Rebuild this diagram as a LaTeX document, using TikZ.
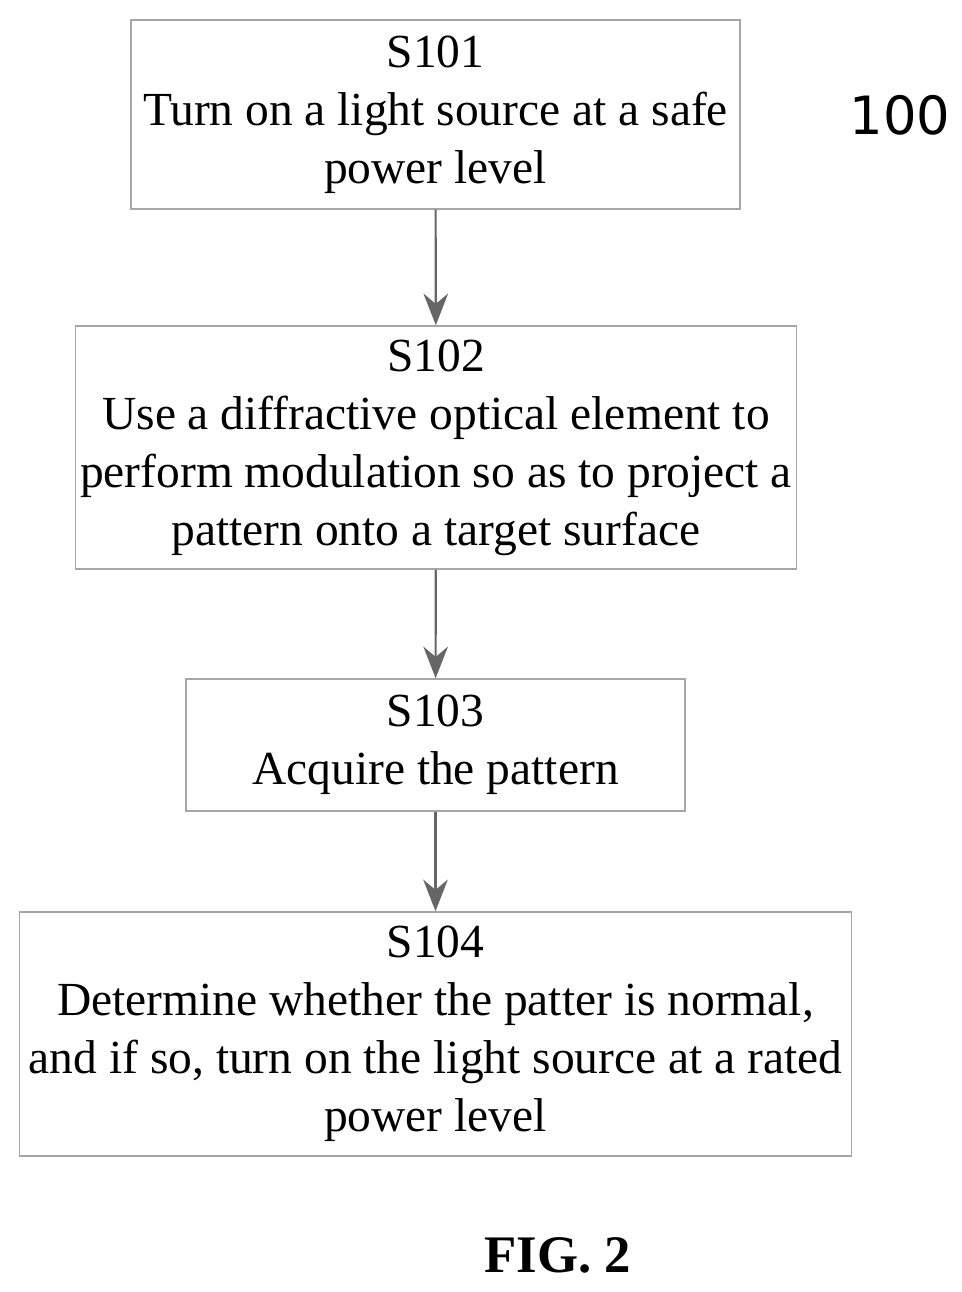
\documentclass[tikz,border=0pt]{standalone}
\usepackage{fontspec}
\setmainfont{Liberation Serif}
\newfontfamily\labelfont{DejaVu Sans}
\usetikzlibrary{arrows.meta}
\tikzset{
  stepbox/.style={draw=gray!70, thin, rectangle, align=center, inner sep=0pt,
    font=\fontsize{13.5}{16.5}\selectfont},
  flow/.style={-{Stealth[length=9pt,width=7pt]}, draw=gray!80!black, fill=gray!60, semithick}
}
\begin{document}
\begin{tikzpicture}[x=0.01cm,y=-0.01cm]
\useasboundingbox (0,0) rectangle (961,1292);
\node[stepbox, minimum width=6.09cm, minimum height=1.89cm] (S101)at(435.5, 114.5) {S101\\Turn on a light source at a safe\\power level};
\node[stepbox, minimum width=7.20cm, minimum height=2.43cm] (S102)at(436, 447.5) {S102\\Use a diffractive optical element to\\perform modulation so as to project a\\pattern onto a target surface};
\node[stepbox, minimum width=4.99cm, minimum height=1.32cm] (S103)at(435.5, 745) {S103\\Acquire the pattern};
\node[stepbox, minimum width=8.31cm, minimum height=2.44cm] (S104)at(435.5, 1034) {S104\\Determine whether the patter is normal,\\and if so, turn on the light source at a rated\\power level};
\node[font=\labelfont\fontsize{15}{18}\selectfont] (L100)at(900, 115) {100};
\node[font=\bfseries\fontsize{15}{18}\selectfont] (FIG)at(558, 1255) {FIG. 2};
\draw[flow] (S101) -- (S102);
\draw[flow] (S102) -- (S103);
\draw[flow] (S103) -- (S104);
\end{tikzpicture}
\end{document}
